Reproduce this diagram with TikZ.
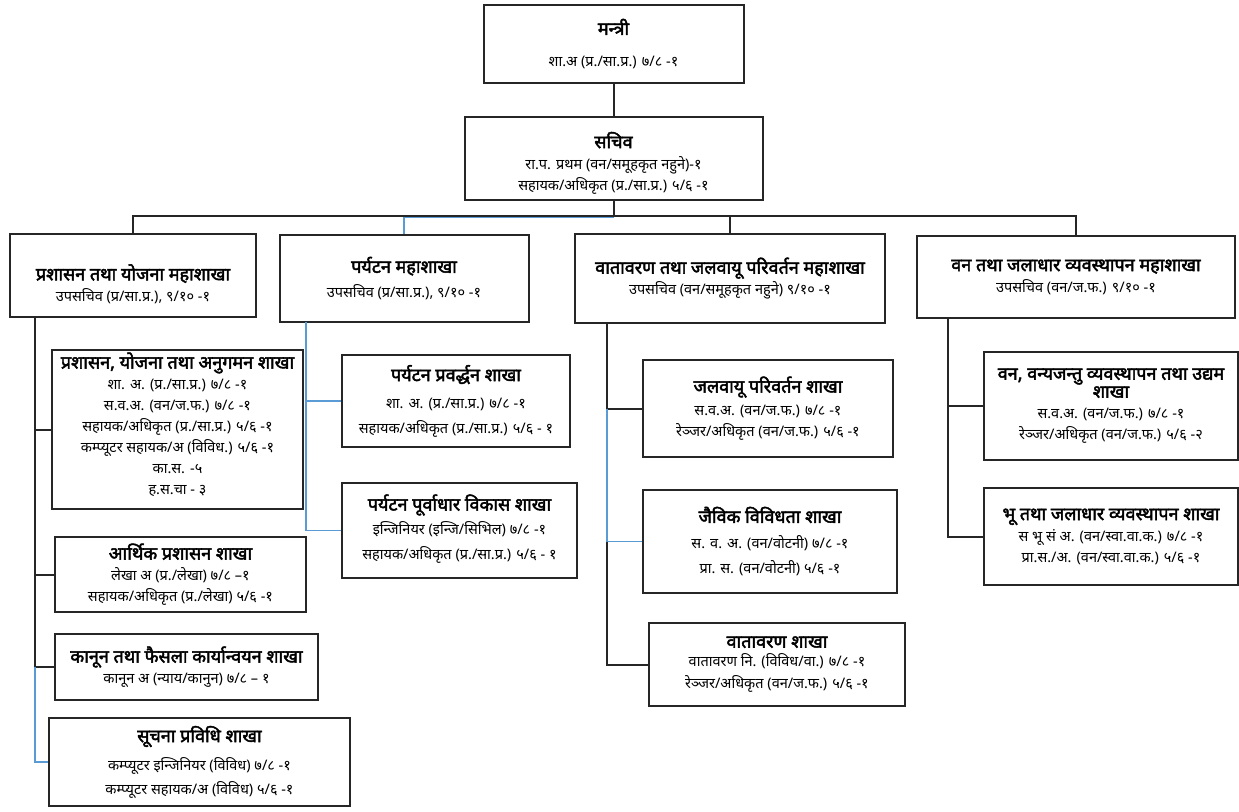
\documentclass[tikz,border=0pt]{standalone}
\usepackage{fontspec}
\setmainfont[Script=Devanagari, BoldFont={Noto Sans}, BoldFeatures={FakeBold=2.5}]{Noto Sans}
\definecolor{linkblue}{HTML}{5B9BD5}
\newcommand{\hd}[1]{{\fontsize{18}{21}\selectfont\bfseries #1}}
\begin{document}
\begin{tikzpicture}[x=1pt, y=-1pt,
  box/.style = {draw=black!85, line width=2pt, align=center, inner sep=2pt, font=\fontsize{14.5}{21}\selectfont},
  wire/.style = {draw=black!85, line width=2pt},
  bluewire/.style = {draw=linkblue, line width=1.6pt}]
  \useasboundingbox (0,0) rectangle (1239,811);
  \node[box, minimum width=260pt, minimum height=78pt] (mantri) at (613.5,44) {\hd{मन्त्री}\\[11pt] शा.अ (प्र./सा.प्र.) ७/८ -१};
  \node[box, minimum width=298pt, minimum height=83pt] (sachiv) at (613.5,158.5) {\mbox{}\\[4pt] \hd{सचिव}\\ रा.प. प्रथम (वन/समूहकृत नहुने)-१\\ सहायक/अधिकृत (प्र./सा.प्र.) ५/६ -१};
  \node[box, minimum width=246pt, minimum height=83pt] (maha1) at (133,275.5) {\mbox{}\\[12pt] \hd{प्रशासन तथा योजना महाशाखा}\\ उपसचिव (प्र/सा.प्र.), ९/१० -१};
  \node[box, minimum width=249pt, minimum height=87pt] (maha2) at (404,278.5) {\hd{पर्यटन महाशाखा}\\[4pt] उपसचिव (प्र/सा.प्र.), ९/१० -१};
  \node[box, minimum width=310pt, minimum height=89pt] (maha3) at (730,278.5) {\hd{वातावरण तथा जलवायू परिवर्तन महाशाखा}\\ उपसचिव (वन/समूहकृत नहुने) ९/१० -१};
  \node[box, minimum width=318pt, minimum height=82pt] (maha4) at (1076,277) {\hd{वन तथा जलाधार व्यवस्थापन महाशाखा}\\ उपसचिव (वन/ज.फ.) ९/१० -१};
  \node[box, minimum width=251pt, minimum height=157pt] (pya) at (177.5,429.5) {\hd{प्रशासन, योजना तथा अनुगमन शाखा}\\ शा. अ. (प्र./सा.प्र.) ७/८ -१\\ स.व.अ. (वन/ज.फ.) ७/८ -१\\ सहायक/अधिकृत (प्र./सा.प्र.) ५/६ -१\\ कम्प्यूटर सहायक/अ (विविध.) ५/६ -१\\ का.स. -५\\ ह.स.चा - ३\\[-9pt] \mbox{}};
  \node[box, minimum width=251pt, minimum height=75pt] (arthik) at (180.5,574.5) {\hd{आर्थिक प्रशासन शाखा}\\ लेखा अ (प्र./लेखा) ७/८ –१\\ सहायक/अधिकृत (प्र./लेखा) ५/६ -१};
  \node[box, minimum width=263pt, minimum height=66pt] (kanun) at (186.5,667) {\hd{कानून तथा फैसला कार्यान्वयन शाखा}\\ कानून अ (न्याय/कानुन) ७/८ – १};
  \node[box, minimum width=301pt, minimum height=88pt] (suchana) at (199.5,762) {\hd{सूचना प्रविधि शाखा}\\[7pt] कम्प्यूटर इन्जिनियर (विविध) ७/८ -१\\[3pt] कम्प्यूटर सहायक/अ (विविध) ५/६ -१};
  \node[box, minimum width=228pt, minimum height=92pt] (pravardhan) at (456,401) {\hd{पर्यटन प्रवर्द्धन शाखा}\\[6pt] शा. अ. (प्र./सा.प्र.) ७/८ -१\\[4pt] सहायक/अधिकृत (प्र./सा.प्र.) ५/६ - १};
  \node[box, minimum width=235pt, minimum height=95pt] (purvadhar) at (459.5,530.5) {\hd{पर्यटन पूर्वाधार विकास शाखा}\\[3pt] इन्जिनियर (इन्जि/सिभिल) ७/८ -१\\[4pt] सहायक/अधिकृत (प्र./सा.प्र.) ५/६ - १\\[-14pt] \mbox{}};
  \node[box, minimum width=250pt, minimum height=97pt] (jalvayu) at (768,408.5) {\hd{जलवायू परिवर्तन शाखा}\\[2pt] स.व.अ. (वन/ज.फ.) ७/८ -१\\ रेञ्जर/अधिकृत (वन/ज.फ.) ५/६ -१};
  \node[box, minimum width=254pt, minimum height=103pt] (jaivik) at (770,541.5) {\hd{जैविक विविधता शाखा}\\[5pt] स. व. अ. (वन/वोटनी) ७/८ -१\\[4pt] प्रा. स. (वन/वोटनी) ५/६ -१};
  \node[box, minimum width=256pt, minimum height=83pt] (vatavaran) at (777,664.5) {\hd{वातावरण शाखा}\\[-2pt] वातावरण नि. (विविध/वा.) ७/८ -१\\[1pt] रेञ्जर/अधिकृत (वन/ज.फ.) ५/६ -१};
  \node[box, minimum width=254pt, minimum height=108pt] (vanya) at (1111,406) {\hd{वन, वन्यजन्तु व्यवस्थापन तथा उद्यम}\\[-3pt] \hd{शाखा}\\ स.व.अ. (वन/ज.फ.) ७/८ -१\\ रेञ्जर/अधिकृत (वन/ज.फ.) ५/६ -२};
  \node[box, minimum width=254pt, minimum height=97pt] (bhu) at (1111,536.5) {\hd{भू तथा जलाधार व्यवस्थापन शाखा}\\ स भू सं अ. (वन/स्वा.वा.क.) ७/८ -१\\ प्रा.स./अ. (वन/स्वा.वा.क.) ५/६ -१};
  \coordinate (bus) at (613.5,216);
  \coordinate (spine1) at (35,317);
  \coordinate (spine2) at (306,322);
  \coordinate (spine3) at (607,323);
  \coordinate (spine4) at (948,318);
  \draw[wire] (mantri.south) -- (sachiv.north);
  \draw[bluewire] (maha2.north) |- ([yshift=-1.5pt]sachiv.south |- bus);
  \draw[wire] (sachiv.south) -- (bus);
  \draw[wire] (maha1.north) |- (maha4.north |- bus) -- (maha4.north);
  \draw[wire] (maha3.north) -- (maha3.north |- bus);
  \draw[wire] (spine1) |- (pya.west);
  \draw[wire] (spine1) |- (arthik.west);
  \draw[wire] (spine1) |- (kanun.west);
  \draw[bluewire] (kanun.west -| spine1) |- (suchana.west);
  \draw[bluewire] (spine2) |- (pravardhan.west);
  \draw[bluewire] (spine2) |- (purvadhar.west);
  \draw[wire] (spine3) |- (jalvayu.west);
  \draw[bluewire] (jalvayu.west -| spine3) |- (jaivik.west);
  \draw[wire] (jaivik.west -| spine3) |- (vatavaran.west);
  \draw[wire] (spine4) |- (vanya.west);
  \draw[wire] (spine4) |- (bhu.west);
\end{tikzpicture}
\end{document}
